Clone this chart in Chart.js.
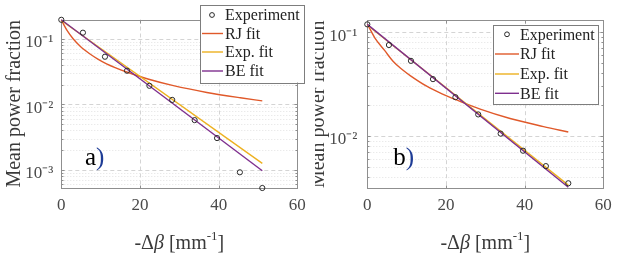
<!DOCTYPE html>
<html><head><meta charset="utf-8">
<script src="https://cdn.jsdelivr.net/npm/chart.js@4/dist/chart.umd.min.js"></script>
<style>
html,body{margin:0;padding:0;background:#fff;width:638px;height:253px;overflow:hidden;position:relative}
#pa{position:absolute;left:0;top:0;width:318px;height:253px}
#pb{position:absolute;left:315px;top:0;width:323px;height:253px;overflow:hidden}
#pb canvas{position:absolute;left:-8px;top:0}
</style></head><body>
<div id="pa"><canvas id="ca" width="318" height="253" style="width:318px;height:253px"></canvas></div>
<div id="pb"><canvas id="cb" width="331" height="253" style="width:331px;height:253px"></canvas></div>
<script>
// ---------- data ----------
const deltaBeta = [0, 5.5, 11.1, 16.7, 22.4, 28.2, 33.9, 39.6, 45.4, 51.1];
const expA = [0.195, 0.124, 0.0533, 0.0326, 0.0192, 0.0117, 0.00575, 0.00306, 0.00092, 0.00053];
const expB = [0.1186, 0.075, 0.0528, 0.0352, 0.0236, 0.0161, 0.01052, 0.0072, 0.00512, 0.0035];

const rjXA = [0, 0.7, 1.5, 3, 4.8, 7.3, 9.3, 11.5, 14, 16.8, 19, 22, 28.5, 37, 45.5, 51.1];
const rjA  = [0.195, 0.162, 0.133, 0.100, 0.077, 0.0587, 0.0491, 0.0415, 0.0358, 0.0309, 0.0278, 0.0244, 0.0193, 0.0152, 0.0126, 0.0113];
const expFitXA = [0, 51.1];
const expFitA  = [0.19, 0.00126];
const beXA = [0, 51.1];
const beA  = [0.195, 0.00097];

const rjXB = [0, 0.9, 1.9, 4.4, 6.6, 8.7, 10.9, 15.1, 19, 23.6, 28.7, 36.3, 44.8, 51.1];
const rjB  = [0.1186, 0.103, 0.088, 0.0665, 0.0520, 0.0440, 0.0381, 0.0301, 0.0254, 0.0215, 0.0181, 0.0147, 0.0123, 0.0109];
const expFitXB = [0, 51.1];
const expFitB  = [0.117, 0.00336];
const beXB = [0, 51.1];
const beB  = [0.1186, 0.0032];

const xTicks = [0, 20, 40, 60];
const yDecadesA = [0.001, 0.01, 0.1];
const yLabelsA  = ['10⁻³', '10⁻²', '10⁻¹'];
const yDecadesB = [0.01, 0.1];
const yLabelsB  = ['10⁻²', '10⁻¹'];
const legendLabels = ['Experiment', 'RJ fit', 'Exp. fit', 'BE fit'];
const panelTags = ['a', 'b'];
const yTitle = 'Mean power fraction';

// ---------- styling ----------
const FONT = "'Liberation Serif', 'Times New Roman', serif";
Chart.defaults.font.family = FONT;
const COLORS = {rj: '#E0592A', exp: '#EDB120', be: '#7E2F8E', pts: '#2a2a2a'};

function toXY(xs, ys) { return xs.map((x, i) => ({x: x, y: ys[i]})); }

function allLogTicks(decades, min, max) {
  const out = [];
  const ds = [decades[0] / 10].concat(decades);
  for (const d of ds) for (let k = 1; k <= 9; k++) {
    const v = d * k;
    if (v >= min * 0.9999 && v <= max * 1.0001) out.push(v);
  }
  return out;
}
function isDecade(v) { const l = Math.log10(v); return Math.abs(l - Math.round(l)) < 1e-6; }

function panelPlugin(p) {
  return {
    id: 'panel' + p.tag,
    beforeDatasetsDraw(chart) {
      const {ctx, chartArea: a, scales: {x, y}} = chart;
      ctx.save();
      ctx.lineWidth = 1;
      // minor grid
      ctx.setLineDash([1, 2]);
      ctx.strokeStyle = '#e2e2e2';
      for (const v of p.yAll) {
        if (isDecade(v)) continue;
        const py = Math.round(y.getPixelForValue(v)) + 0.5;
        ctx.beginPath(); ctx.moveTo(a.left, py); ctx.lineTo(a.right, py); ctx.stroke();
      }
      // major grid
      ctx.setLineDash([4, 3]);
      ctx.strokeStyle = '#d4d4d4';
      for (const v of p.decades) {
        const py = Math.round(y.getPixelForValue(v)) + 0.5;
        ctx.beginPath(); ctx.moveTo(a.left, py); ctx.lineTo(a.right, py); ctx.stroke();
      }
      for (const v of xTicks) {
        if (v === xTicks[0] || v === xTicks[xTicks.length - 1]) continue;
        const px = Math.round(x.getPixelForValue(v)) + 0.5;
        ctx.beginPath(); ctx.moveTo(px, a.top); ctx.lineTo(px, a.bottom); ctx.stroke();
      }
      ctx.setLineDash([]);
      // box
      ctx.strokeStyle = '#8f8f8f';
      const L = Math.round(a.left) + 0.5, R = Math.round(a.right) + 0.5, T = Math.round(a.top) + 0.5, B = Math.round(a.bottom) + 0.5;
      ctx.strokeRect(L, T, R - L, B - T);
      // inward tick marks
      ctx.beginPath();
      for (const v of xTicks) {
        const px = Math.round(x.getPixelForValue(v)) + 0.5;
        ctx.moveTo(px, B); ctx.lineTo(px, B - 3);
        ctx.moveTo(px, T); ctx.lineTo(px, T + 3);
      }
      for (const v of p.yAll) {
        const py = Math.round(y.getPixelForValue(v)) + 0.5;
        const len = isDecade(v) ? 3 : 2;
        ctx.moveTo(L, py); ctx.lineTo(L + len, py);
        ctx.moveTo(R, py); ctx.lineTo(R - len, py);
      }
      ctx.stroke();
      ctx.restore();
    },
    afterDraw(chart) {
      const {ctx, chartArea: a} = chart;
      ctx.save();
      // x title: -Δβ [mm^-1]
      const parts = [
        {t: '-Δ', f: '20px ' + FONT, dy: 0},
        {t: 'β', f: 'italic 20px ' + FONT, dy: 0},
        {t: ' [mm', f: '20px ' + FONT, dy: 0},
        {t: '-1', f: '13px ' + FONT, dy: -9},
        {t: ']', f: '20px ' + FONT, dy: 0}
      ];
      let w = 0;
      for (const q of parts) { ctx.font = q.f; q.w = ctx.measureText(q.t).width; w += q.w; }
      let cx = (a.left + a.right) / 2 - w / 2;
      ctx.fillStyle = '#3a3a3a';
      ctx.textBaseline = 'alphabetic';
      ctx.textAlign = 'left';
      for (const q of parts) { ctx.font = q.f; ctx.fillText(q.t, cx, 249 + q.dy); cx += q.w; }
      // panel tag
      ctx.font = '25px ' + FONT;
      ctx.fillStyle = '#000';
      ctx.fillText(p.tag, p.tagX, 165);
      const tw = ctx.measureText(p.tag).width;
      ctx.fillStyle = '#1e3c96';
      ctx.fillText(')', p.tagX + tw, 165);
      // legend
      const lg = p.legend;
      ctx.fillStyle = '#fff';
      ctx.fillRect(lg.x, lg.y, lg.w, lg.h);
      ctx.strokeStyle = '#7d7d7d';
      ctx.lineWidth = 1;
      ctx.strokeRect(Math.round(lg.x) + 0.5, Math.round(lg.y) + 0.5, Math.round(lg.w), Math.round(lg.h));
      const cols = [null, COLORS.rj, COLORS.exp, COLORS.be];
      ctx.font = '16px ' + FONT;
      ctx.textBaseline = 'middle';
      for (let i = 0; i < legendLabels.length; i++) {
        const ry = lg.rows[i];
        if (i === 0) {
          ctx.strokeStyle = COLORS.pts; ctx.lineWidth = 1;
          ctx.beginPath(); ctx.arc(lg.mx, ry, 2.4, 0, Math.PI * 2); ctx.stroke();
        } else {
          ctx.strokeStyle = cols[i]; ctx.lineWidth = 1.4;
          ctx.beginPath(); ctx.moveTo(lg.s0, ry); ctx.lineTo(lg.s1, ry); ctx.stroke();
        }
        ctx.fillStyle = '#222';
        ctx.fillText(legendLabels[i], lg.tx, ry + 1);
      }
      ctx.restore();
    }
  };
}

function makeChart(canvas, p) {
  const yAll = allLogTicks(p.decades, p.ymin, p.ymax);
  p.yAll = yAll;
  const W = canvas.width;
  return new Chart(canvas, {
    type: 'scatter',
    data: {
      datasets: [
        {label: legendLabels[0], data: toXY(deltaBeta, p.pts), showLine: false, pointRadius: 2.6,
         pointBorderColor: COLORS.pts, pointBackgroundColor: 'rgba(0,0,0,0)', pointBorderWidth: 1, order: 0, clip: false},
        {label: legendLabels[1], data: toXY(p.rjX, p.rj), showLine: true, borderColor: COLORS.rj, borderWidth: 1.4,
         pointRadius: 0, cubicInterpolationMode: 'monotone', order: 3, clip: false},
        {label: legendLabels[2], data: toXY(p.exX, p.ex), showLine: true, borderColor: COLORS.exp, borderWidth: 1.4,
         pointRadius: 0, order: 2, clip: false},
        {label: legendLabels[3], data: toXY(p.beX, p.be), showLine: true, borderColor: COLORS.be, borderWidth: 1.4,
         pointRadius: 0, order: 1, clip: false}
      ]
    },
    options: {
      responsive: false, animation: false, devicePixelRatio: 1, events: [],
      layout: {padding: {left: 0, top: p.area.top, right: W - p.area.right, bottom: 0}},
      plugins: {legend: {display: false}, tooltip: {enabled: false}},
      scales: {
        x: {
          type: 'linear', min: 0, max: 60,
          afterBuildTicks(s) { s.ticks = xTicks.map(v => ({value: v})); },
          afterFit(s) { s.height = 253 - p.area.bottom; },
          grid: {display: false, drawTicks: false},
          border: {display: false},
          ticks: {color: '#4a4a4a', font: {size: 17, family: FONT}, padding: 7, autoSkip: false, maxRotation: 0}
        },
        y: {
          type: 'logarithmic', min: p.ymin, max: p.ymax, bounds: 'data',
          afterBuildTicks(s) { s.ticks = yAll.map(v => ({value: v})); },
          afterFit(s) { s.width = p.area.left; },
          grid: {display: false, drawTicks: false},
          border: {display: false},
          ticks: {
            color: '#4a4a4a', font: {size: 17, family: FONT}, padding: p.yTickPad, autoSkip: false, labelOffset: 4,
            callback(v) {
              for (let i = 0; i < p.decades.length; i++) if (Math.abs(Math.log10(v) - Math.log10(p.decades[i])) < 1e-6) return p.labels[i];
              return '';
            }
          },
          title: {display: true, text: yTitle, color: '#3a3a3a', font: {size: 20, family: FONT}, padding: {top: p.yTitlePad, bottom: 0}}
        }
      }
    },
    plugins: [panelPlugin(p)]
  });
}

makeChart(document.getElementById('ca'), {
  tag: panelTags[0], tagX: 85,
  pts: expA, rjX: rjXA, rj: rjA, exX: expFitXA, ex: expFitA, beX: beXA, be: beA,
  ymin: 0.00053, ymax: 0.197, decades: yDecadesA, labels: yLabelsA,
  area: {left: 61.3, right: 297.3, top: 19.5, bottom: 188},
  yTickPad: 8, yTitlePad: 3,
  legend: {x: 200, y: 4.5, w: 103.5, h: 78, rows: [15, 33.5, 52, 71], s0: 202, s1: 223, tx: 225, mx: 212}
});
makeChart(document.getElementById('cb'), {
  tag: panelTags[1], tagX: 86.3,
  pts: expB, rjX: rjXB, rj: rjB, exX: expFitXB, ex: expFitB, beX: beXB, be: beB,
  ymin: 0.00313, ymax: 0.130, decades: yDecadesB, labels: yLabelsB,
  area: {left: 60.3, right: 296.3, top: 17.5, bottom: 188.3},
  yTickPad: 10, yTitlePad: 0,
  legend: {x: 186, y: 24.5, w: 104.5, h: 79, rows: [34.3, 54, 74, 93.3], s0: 188, s1: 212, tx: 213, mx: 200}
});
</script>
</body></html>
